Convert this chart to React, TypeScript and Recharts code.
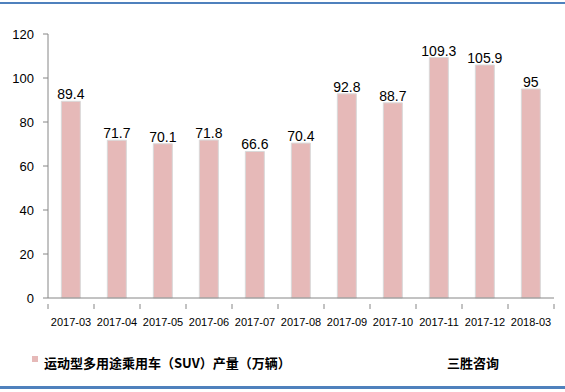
import { Bar, BarChart, LabelList, XAxis, YAxis } from "recharts";

const months = [
  "2017-03",
  "2017-04",
  "2017-05",
  "2017-06",
  "2017-07",
  "2017-08",
  "2017-09",
  "2017-10",
  "2017-11",
  "2017-12",
  "2018-03",
];
const output = [89.4, 71.7, 70.1, 71.8, 66.6, 70.4, 92.8, 88.7, 109.3, 105.9, 95];
const yTicks = [0, 20, 40, 60, 80, 100, 120];

const seriesName = "运动型多用途乘用车（SUV）产量（万辆）";
const brand = "三胜咨询";

const data = months.map((m, i) => ({ month: m, value: output[i] }));

const font = '"Liberation Sans", Arial, sans-serif';
const cjkFont = '"Noto Sans CJK SC", "Liberation Sans", sans-serif';
const axisColor = "#868686";

// tick marks sit between the categories, like the original's Excel axis
function MonthTick(props: any) {
  const { x, y, payload, index, visibleTicksCount, width } = props;
  const half =
    payload && payload.offset ? payload.offset : width / visibleTicksCount / 2;
  const axisY = y - 14;
  return (
    <g>
      <line x1={x - half} x2={x - half} y1={axisY} y2={axisY + 5} stroke={axisColor} />
      {index === visibleTicksCount - 1 && (
        <line x1={x + half} x2={x + half} y1={axisY} y2={axisY + 5} stroke={axisColor} />
      )}
      <text x={x} y={y} dy="0.71em" textAnchor="middle" fontSize={11} fill="#000" fontFamily={font}>
        {payload.value}
      </text>
    </g>
  );
}

export default function App() {
  return (
    <div
      style={{
        position: "absolute",
        left: 0,
        top: 0,
        width: 565,
        height: 392,
        background: "#fff",
        overflow: "hidden",
      }}
    >
      <div style={{ position: "absolute", left: 0, top: 2, width: 565, height: 2, background: "#4f81bd" }} />
      <div style={{ position: "absolute", left: 0, top: 386, width: 565, height: 3, background: "#4f81bd" }} />
      <BarChart
        width={565}
        height={392}
        data={data}
        margin={{ top: 34, right: 11, bottom: 64, left: 0 }}
        barCategoryGap="29%"
      >
        <YAxis
          domain={[0, 120]}
          ticks={yTicks}
          width={48}
          tickSize={5}
          tickMargin={9}
          stroke={axisColor}
          tick={{ fill: "#000", fontSize: 13, fontFamily: font }}
        />
        <XAxis
          dataKey="month"
          height={30}
          interval={0}
          tickLine={false}
          tickMargin={14}
          stroke={axisColor}
          tick={<MonthTick />}
        />
        <Bar dataKey="value" fill="#e6b9b8" stroke="#d9d9d9" strokeWidth={1} isAnimationActive={false}>
          <LabelList
            dataKey="value"
            position="top"
            offset={2}
            fill="#000"
            fontSize={14}
            fontFamily={font}
          />
        </Bar>
      </BarChart>
      <div
        style={{
          position: "absolute",
          left: 32,
          top: 356,
          width: 6,
          height: 6,
          background: "#e6b9b8",
        }}
      />
      <div
        style={{
          position: "absolute",
          left: 44,
          top: 354,
          fontSize: 13,
          lineHeight: "18px",
          fontWeight: 700,
          fontFamily: cjkFont,
          color: "#000",
          whiteSpace: "nowrap",
        }}
      >
        {seriesName}
      </div>
      <div
        style={{
          position: "absolute",
          left: 447,
          top: 354,
          fontSize: 13,
          lineHeight: "18px",
          fontWeight: 700,
          fontFamily: cjkFont,
          color: "#000",
          whiteSpace: "nowrap",
        }}
      >
        {brand}
      </div>
    </div>
  );
}
